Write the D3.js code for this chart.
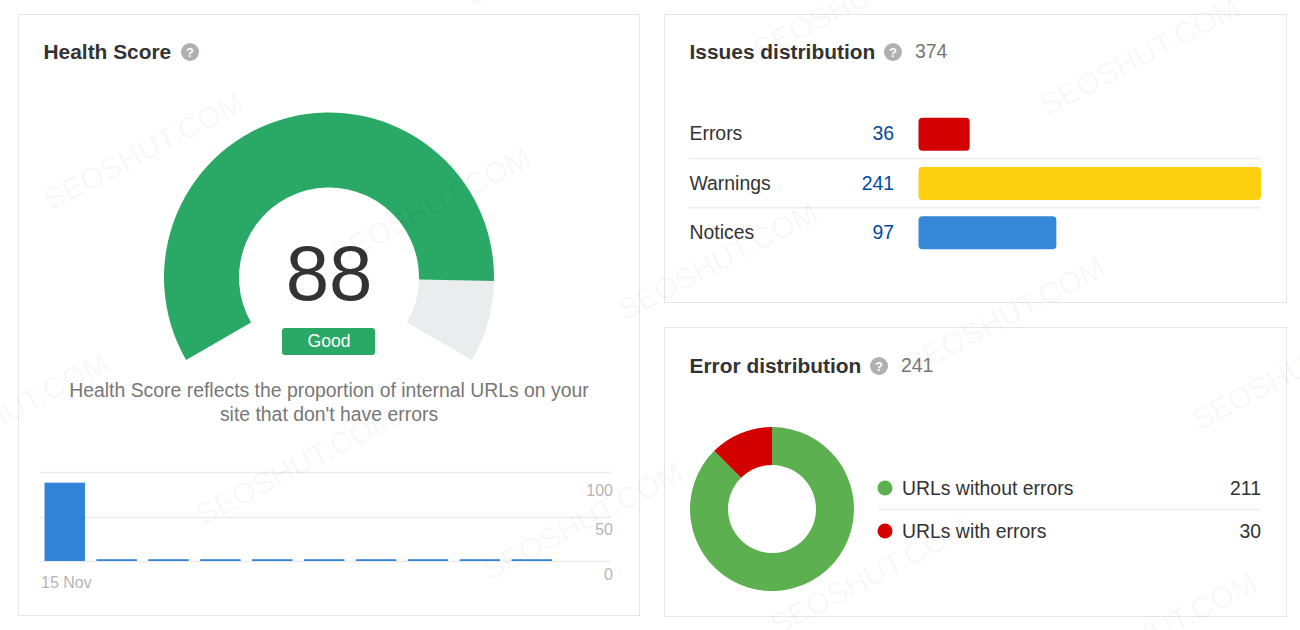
<!DOCTYPE html>
<html>
<head>
<meta charset="utf-8">
<title>Site audit overview</title>
<script src="https://cdn.jsdelivr.net/npm/d3@7"></script>
<style>
  html, body { margin: 0; padding: 0; background: #fff; }
  svg { display: block; }
  text { font-family: "Liberation Sans", Arial, sans-serif; }
</style>
</head>
<body>
<svg id="chart" width="1300" height="630"></svg>
<script>
// Health score gauge
const healthScore = 88;
const healthMax = 100;
const healthLabel = "Good";
const healthNote = [
  "Health Score reflects the proportion of internal URLs on your",
  "site that don't have errors"
];

// Health score history
const historyValues = [88, 2, 2, 2, 2, 2, 2, 2, 2, 2];
const historyTicks = [0, 50, 100];
const historyFirstDate = "15 Nov";

// Issues distribution
const issueNames = ["Errors", "Warnings", "Notices"];
const issueValues = [36, 241, 97];
const issueColors = ["#d30000", "#fccf0f", "#3587d8"];
const issueTotal = 374;

// Error distribution
const errorNames = ["URLs without errors", "URLs with errors"];
const errorValues = [211, 30];
const errorColors = ["#5cb04f", "#d30000"];
const errorTotal = 241;

const svg = d3.select("#chart");
const INK = "#333", MUTED = "#777", RULE = "#ececec", FRAME = "#e6e6e6";
const BODY_SIZE = 19.4;

// Panels
const panels = [
  { x: 18.5, y: 14.5, w: 621, h: 601 },
  { x: 664.5, y: 14.5, w: 622, h: 288 },
  { x: 664.5, y: 327.5, w: 622, h: 289 }
];
svg.append("g").selectAll("rect").data(panels).join("rect")
  .attr("x", d => d.x).attr("y", d => d.y)
  .attr("width", d => d.w).attr("height", d => d.h)
  .attr("fill", "#fff").attr("stroke", FRAME);

// Panel heading: title, help badge and optional count
function heading(title, x, baseline, badgeX, count, countX) {
  const g = svg.append("g");
  g.append("text").attr("x", x).attr("y", baseline)
    .attr("font-size", 20.9).attr("font-weight", 700).attr("fill", INK).text(title);
  g.append("circle").attr("cx", badgeX).attr("cy", baseline - 7).attr("r", 9).attr("fill", "#b0b0b0");
  g.append("text").attr("x", badgeX).attr("y", baseline - 2.5).attr("text-anchor", "middle")
    .attr("font-size", 13).attr("font-weight", 700).attr("fill", "#fff").text("?");
  if (count !== null) {
    g.append("text").attr("x", countX).attr("y", baseline - 1)
      .attr("font-size", BODY_SIZE).attr("fill", MUTED).text(count);
  }
}
heading("Health Score", 43.5, 59, 190, null, 0);
heading("Issues distribution", 689.5, 59, 893, issueTotal, 915);
heading("Error distribution", 689.5, 373, 879, errorTotal, 901);

// Gauge
const gaugeAngle = d3.scaleLinear().domain([0, healthMax]).range([-2 * Math.PI / 3, 2 * Math.PI / 3]);
const gaugeArc = d3.arc().innerRadius(90).outerRadius(165);
const gauge = svg.append("g").attr("transform", "translate(329,277.5)");
gauge.append("path")
  .attr("d", gaugeArc({ startAngle: gaugeAngle(healthScore), endAngle: gaugeAngle(healthMax) }))
  .attr("fill", "#ebecee");
gauge.append("path")
  .attr("d", gaugeArc({ startAngle: gaugeAngle(0), endAngle: gaugeAngle(healthScore) }))
  .attr("fill", "#2aa866");
gauge.append("text").attr("x", 0).attr("y", 22.5).attr("text-anchor", "middle")
  .attr("font-size", 78).attr("fill", INK).text(healthScore);
gauge.append("rect").attr("x", -47).attr("y", 50.5).attr("width", 93).attr("height", 27).attr("rx", 3)
  .attr("fill", "#2aa866");
gauge.append("text").attr("x", 0).attr("y", 69.5).attr("text-anchor", "middle")
  .attr("font-size", 17.6).attr("fill", "#fff").text(healthLabel);

svg.append("g").selectAll("text").data(healthNote).join("text")
  .attr("x", 329).attr("y", (d, i) => 397 + i * 24).attr("text-anchor", "middle")
  .attr("font-size", BODY_SIZE).attr("fill", MUTED).text(d => d);

// History bars
const historyX = d3.scaleBand().domain(d3.range(historyValues.length))
  .range([44.5, 552]).paddingInner(0.22).paddingOuter(0);
const historyY = d3.scaleLinear().domain([0, 100]).range([561, 472]);
const historyAxis = svg.append("g");
historyAxis.selectAll("line").data(historyTicks).join("line")
  .attr("x1", 40).attr("x2", 611)
  .attr("y1", d => Math.round(historyY(d)) + 0.5).attr("y2", d => Math.round(historyY(d)) + 0.5)
  .attr("stroke", RULE).attr("stroke-width", 1.5);
svg.append("g").selectAll("rect").data(historyValues).join("rect")
  .attr("x", (d, i) => historyX(i)).attr("width", historyX.bandwidth())
  .attr("y", d => historyY(d)).attr("height", d => historyY(0) - historyY(d))
  .attr("fill", "#3184d8");
const tickBaselineShift = { 0: 19, 50: 18.5, 100: 24 };
historyAxis.selectAll("text.tick").data(historyTicks).join("text").attr("class", "tick")
  .attr("x", 613).attr("y", d => historyY(d) + tickBaselineShift[d]).attr("text-anchor", "end")
  .attr("font-size", 16).attr("fill", "#b5b5b5").text(d => d);
svg.append("text").attr("x", 41).attr("y", 588).attr("font-size", 16).attr("fill", "#b5b5b5").text(historyFirstDate);

// Issues table
const issueX = d3.scaleLinear().domain([0, d3.max(issueValues)]).range([918.5, 1261]);
const issueY = d3.scaleBand().domain(issueNames).range([109.5, 257.5]);
const issueRows = svg.append("g").selectAll("g").data(issueNames).join("g")
  .attr("transform", d => `translate(0,${issueY(d) + issueY.bandwidth() / 2})`);
issueRows.append("text").attr("x", 689.5).attr("y", 6).attr("font-size", BODY_SIZE).attr("fill", INK).text(d => d);
issueRows.append("text").attr("x", 894).attr("y", 6).attr("text-anchor", "end")
  .attr("font-size", BODY_SIZE).attr("fill", "#004b9e").text((d, i) => issueValues[i]);
issueRows.append("rect").attr("x", issueX(0)).attr("y", -16.5).attr("height", 33).attr("rx", 4)
  .attr("width", (d, i) => issueX(issueValues[i]) - issueX(0))
  .attr("fill", (d, i) => issueColors[i]);
issueRows.filter((d, i) => i > 0).append("line")
  .attr("x1", 689).attr("x2", 1261).attr("y1", -25).attr("y2", -25)
  .attr("stroke", RULE).attr("stroke-width", 1.5);

// Error donut
const errorPie = d3.pie().sort(null)(errorValues);
const errorArc = d3.arc().innerRadius(44).outerRadius(82);
svg.append("g").attr("transform", "translate(772,509)")
  .selectAll("path").data(errorPie).join("path")
  .attr("d", errorArc).attr("fill", (d, i) => errorColors[i]);

// Error legend
const legendY = d3.scaleBand().domain(errorNames).range([466.5, 552.5]);
const legendRows = svg.append("g").selectAll("g").data(errorNames).join("g")
  .attr("transform", d => `translate(0,${legendY(d) + legendY.bandwidth() / 2})`);
legendRows.append("circle").attr("cx", 885).attr("cy", 0).attr("r", 7.5)
  .attr("fill", (d, i) => errorColors[i]);
legendRows.append("text").attr("x", 902).attr("y", 6.5).attr("font-size", BODY_SIZE).attr("fill", INK).text(d => d);
legendRows.append("text").attr("x", 1261).attr("y", 6.5).attr("text-anchor", "end")
  .attr("font-size", BODY_SIZE).attr("fill", INK).text((d, i) => errorValues[i]);
legendRows.filter((d, i) => i > 0).append("line")
  .attr("x1", 878).attr("x2", 1261).attr("y1", -21.5).attr("y2", -21.5)
  .attr("stroke", RULE).attr("stroke-width", 1.5);

// Repeating SEOSHUT.COM stamp; only copies that reach the page are drawn
const stamp = svg.append("g").attr("pointer-events", "none");
for (let row = -1; row <= 3; row++) {
  for (let col = -2; col <= 6; col++) {
    const x = 51 + 152 * (row - 1) + 287 * col;
    const y = 211 + 315 * (row - 1) + 55 * col;
    if (x > 1300 || x < -205 || y < 0 || y > 735) continue;
    stamp.append("text").attr("transform", `translate(${x},${y}) rotate(-27.5)`)
      .attr("font-size", 30).attr("fill", "#000").attr("fill-opacity", 0.035).text("SEOSHUT.COM");
  }
}
</script>
</body>
</html>
